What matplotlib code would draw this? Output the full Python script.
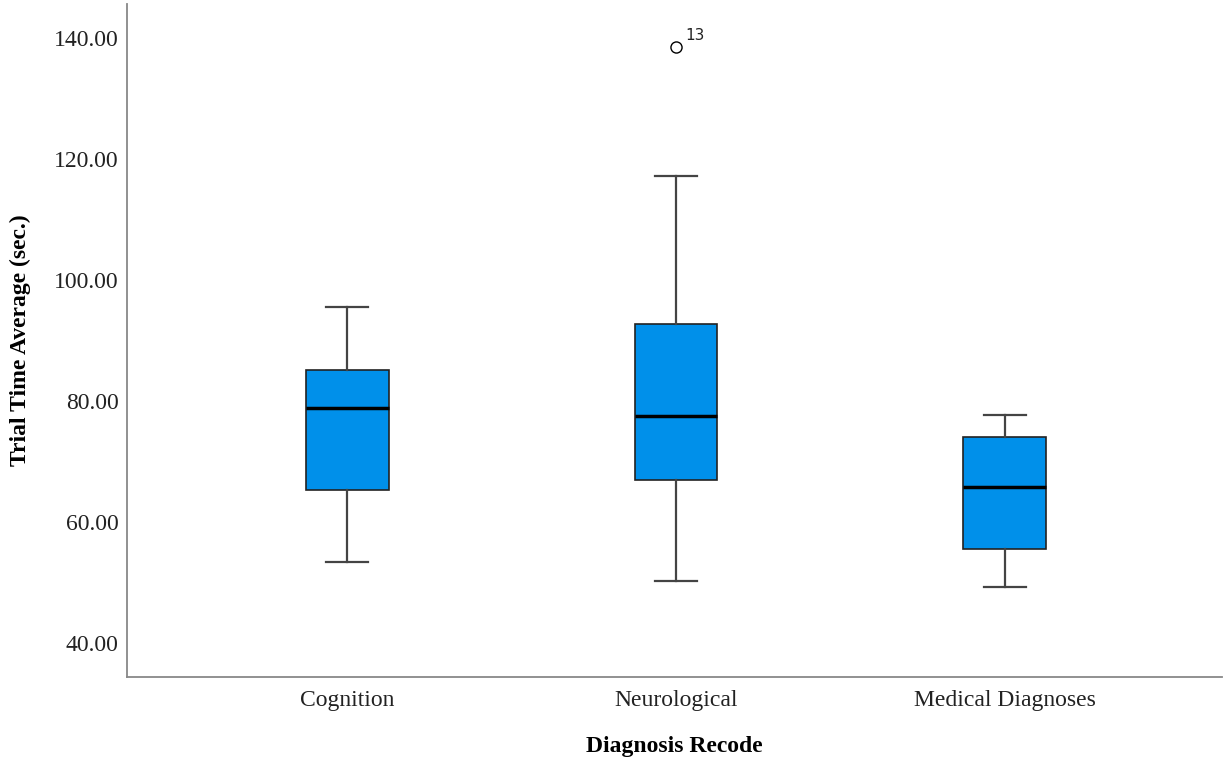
import numpy as np
import matplotlib.pyplot as plt

# diagnosis groups and box statistics (sec.)
groups = ['Cognition', 'Neurological', 'Medical Diagnoses']
whislo = [53.4, 50.3, 49.2]
q1 = [65.3, 66.9, 55.6]
med = [78.8, 77.6, 65.8]
q3 = [85.1, 92.7, 74.0]
whishi = [95.5, 117.2, 77.7]
outliers = [[], [138.5], []]
outlier_ids = [[], ['13'], []]

yticks = [40, 60, 80, 100, 120, 140]

plt.rcParams['font.family'] = ['Liberation Serif', 'DejaVu Serif']

stats = []
for i in range(len(groups)):
    stats.append(dict(label=groups[i], whislo=whislo[i], q1=q1[i], med=med[i],
                      q3=q3[i], whishi=whishi[i], fliers=outliers[i]))

fig = plt.figure(figsize=(12.25, 7.62), dpi=100)
ax = fig.add_axes([0.1037, 0.1115, 0.8938, 0.8833])

ax.bxp(stats, positions=[1, 2, 3], widths=0.252, patch_artist=True,
       boxprops=dict(facecolor='#0090ea', edgecolor='#222222', linewidth=1.2),
       medianprops=dict(color='black', linewidth=2.5),
       whiskerprops=dict(color='#444444', linewidth=1.6),
       capprops=dict(color='#444444', linewidth=1.6),
       flierprops=dict(marker='o', markerfacecolor='white', markeredgecolor='black',
                       markersize=8, markeredgewidth=1.0))

for i, ids in enumerate(outlier_ids):
    for v, lab in zip(outliers[i], ids):
        ax.annotate(lab, (i + 1, v), xytext=(7, 5), textcoords='offset points',
                    fontsize=11, family='DejaVu Sans', color='#222222')

ax.set_xlim(0.331, 3.66)
ax.set_ylim(34.4, 145.6)
ax.set_yticks(yticks)
ax.set_yticklabels([f'{t:.2f}' for t in yticks])
ax.tick_params(axis='both', length=0, labelsize=17, colors='#222222')
ax.tick_params(axis='y', pad=6)
ax.tick_params(axis='x', pad=9)

for s in ['top', 'right']:
    ax.spines[s].set_visible(False)
for s in ['left', 'bottom']:
    ax.spines[s].set_color('#888888')
    ax.spines[s].set_linewidth(1.3)

ax.set_ylabel('Trial Time Average (sec.)', fontsize=17, fontweight='bold')
ax.set_xlabel('Diagnosis Recode', fontsize=17, fontweight='bold')
ax.yaxis.set_label_coords(-0.088, 0.5)
ax.xaxis.set_label_coords(0.5, -0.088)

fig.savefig('out.png', dpi=100)
